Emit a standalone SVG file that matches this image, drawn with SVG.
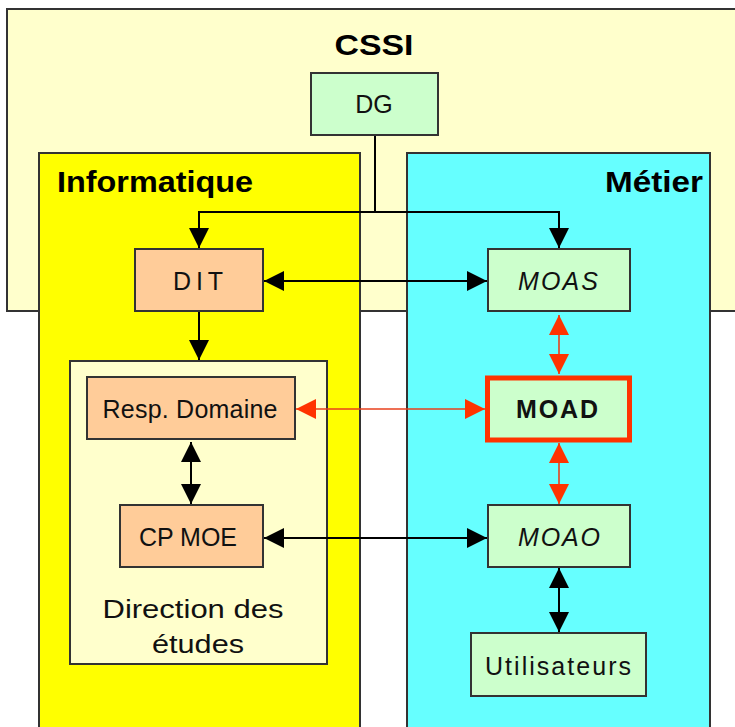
<svg xmlns="http://www.w3.org/2000/svg" width="735" height="727" viewBox="0 0 735 727">
<style>
  .box { stroke: #333; stroke-width: 2; }
  .g { fill: #CCFFCC; }
  .o { fill: #FFCC99; }
  .lbl { font-family: "Liberation Sans", Arial, sans-serif; font-size: 25px; fill: #111; text-anchor: middle; }
  .it { font-style: italic; }
  .ttl { font-family: "Liberation Sans", Arial, sans-serif; font-size: 30px; font-weight: bold; fill: #000; }
  .ln { fill: none; stroke: #000; stroke-width: 2; }
  .lr { fill: none; stroke: #E8401C; stroke-width: 1.6; }
</style>
<defs>
  <marker id="ah" markerUnits="userSpaceOnUse" markerWidth="20" markerHeight="20" refX="20" refY="10" orient="auto-start-reverse" viewBox="0 0 20 20">
    <path d="M0,0 L20,10 L0,20 z" fill="#000"/>
  </marker>
  <marker id="ahr" markerUnits="userSpaceOnUse" markerWidth="20" markerHeight="20" refX="20" refY="10" orient="auto-start-reverse" viewBox="0 0 20 20">
    <path d="M0,0 L20,10 L0,20 z" fill="#FF3300"/>
  </marker>
</defs>
<rect width="735" height="727" fill="#FFFFFF"/>

<g id="cssi">
  <rect x="7" y="9" width="740" height="302" fill="#FFFFCC" class="box"/>
  <text x="374" y="55" class="ttl" text-anchor="middle" textLength="79" lengthAdjust="spacingAndGlyphs">CSSI</text>
</g>

<g id="informatique">
  <rect x="39" y="153" width="321" height="590" fill="#FFFF00" class="box"/>
  <text x="57" y="192" class="ttl" textLength="196" lengthAdjust="spacingAndGlyphs">Informatique</text>
</g>

<g id="metier">
  <rect x="407" y="153" width="303" height="590" fill="#66FFFF" class="box"/>
  <text x="605" y="192" class="ttl" textLength="98" lengthAdjust="spacingAndGlyphs">Métier</text>
</g>

<g id="direction">
  <rect x="70" y="361" width="257" height="303" fill="#FFFFCC" class="box"/>
  <text x="193" y="618" class="lbl" textLength="181" lengthAdjust="spacingAndGlyphs">Direction des</text>
  <text x="198" y="653" class="lbl" textLength="92" lengthAdjust="spacingAndGlyphs">études</text>
</g>

<g id="dg">
  <rect x="311" y="73" width="127" height="62" class="box g"/>
  <text x="374" y="113" class="lbl">DG</text>
</g>

<g id="dit">
  <rect x="135" y="249" width="128" height="62" class="box o"/>
  <text x="198" y="290" class="lbl" textLength="50" lengthAdjust="spacing">DIT</text>
</g>

<g id="moas">
  <rect x="488" y="249" width="142" height="62" class="box g"/>
  <text x="558" y="290" class="lbl it" textLength="80" lengthAdjust="spacing">MOAS</text>
</g>

<g id="resp">
  <rect x="87" y="377" width="208" height="62" class="box o"/>
  <text x="190" y="418" class="lbl" textLength="175" lengthAdjust="spacing">Resp. Domaine</text>
</g>

<g id="moad">
  <rect x="487.5" y="378" width="142" height="62" fill="#CCFFCC" stroke="#FF3300" stroke-width="5"/>
  <text x="557" y="418" class="lbl" font-weight="bold" textLength="82" lengthAdjust="spacing">MOAD</text>
</g>

<g id="cpmoe">
  <rect x="120" y="505" width="143" height="62" class="box o"/>
  <text x="188" y="546" class="lbl" textLength="98" lengthAdjust="spacing">CP MOE</text>
</g>

<g id="moao">
  <rect x="488" y="505" width="142" height="62" class="box g"/>
  <text x="559" y="546" class="lbl it" textLength="82" lengthAdjust="spacing">MOAO</text>
</g>

<g id="utilisateurs">
  <rect x="471" y="633" width="175" height="63" class="box g"/>
  <text x="558" y="675" class="lbl" textLength="146" lengthAdjust="spacing">Utilisateurs</text>
</g>

<g id="connectors">
  <path class="ln" d="M375,136 V212"/>
  <path class="ln" d="M375,212 H199 V248" marker-end="url(#ah)"/>
  <path class="ln" d="M375,212 H559 V248" marker-end="url(#ah)"/>
  <path class="ln" d="M264,281 H487" marker-start="url(#ah)" marker-end="url(#ah)"/>
  <path class="ln" d="M199,312 V360" marker-end="url(#ah)"/>
  <path class="lr" d="M559,315 V374" marker-start="url(#ahr)" marker-end="url(#ahr)"/>
  <path class="lr" d="M296,409 H485" marker-start="url(#ahr)" marker-end="url(#ahr)"/>
  <path class="lr" d="M559,443 V504" marker-start="url(#ahr)" marker-end="url(#ahr)"/>
  <path class="ln" d="M191,442 V504" marker-start="url(#ah)" marker-end="url(#ah)"/>
  <path class="ln" d="M264,538 H487" marker-start="url(#ah)" marker-end="url(#ah)"/>
  <path class="ln" d="M559,568 V632" marker-start="url(#ah)" marker-end="url(#ah)"/>
</g>
</svg>
